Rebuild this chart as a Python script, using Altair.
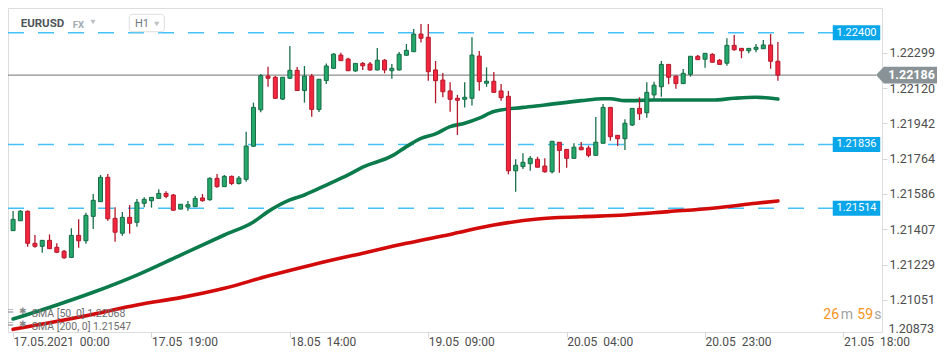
import altair as alt
import pandas as pd

# ---------------- data ----------------
hours = list(range(106))  # hourly candles from 17.05.2021 00:00
opens = [1.21401, 1.21451, 1.21499, 1.21337, 1.21322, 1.21352, 1.21317, 1.21297, 1.21266, 1.21377,
         1.21350, 1.21473, 1.21547, 1.21670, 1.21463, 1.21388, 1.21468, 1.21443, 1.21539, 1.21552,
         1.21564, 1.21589, 1.21581, 1.21510, 1.21520, 1.21522, 1.21566, 1.21557, 1.21665, 1.21623,
         1.21675, 1.21639, 1.21660, 1.21827, 1.22011, 1.22181, 1.22175, 1.22065, 1.22170, 1.22210,
         1.22108, 1.22181, 1.22012, 1.22158, 1.22220, 1.22287, 1.22267, 1.22207, 1.22245, 1.22242,
         1.22212, 1.22261, 1.22208, 1.22212, 1.22286, 1.22304, 1.22393, 1.22377, 1.22212, 1.22161,
         1.22106, 1.22069, 1.22064, 1.22069, 1.22282, 1.22145, 1.22155, 1.22106, 1.22079, 1.21703,
         1.21724, 1.21739, 1.21761, 1.21727, 1.21698, 1.21847, 1.21811, 1.21766, 1.21822, 1.21818,
         1.21781, 1.21842, 1.22023, 1.21882, 1.21865, 1.21934, 1.22018, 1.21996, 1.22086, 1.22127,
         1.22240, 1.22181, 1.22143, 1.22190, 1.22281, 1.22266, 1.22291, 1.22261, 1.22246, 1.22336,
         1.22321, 1.22309, 1.22316, 1.22319, 1.22338, 1.22256]
highs = [1.21500, 1.21505, 1.21503, 1.21379, 1.21354, 1.21382, 1.21337, 1.21303, 1.21413, 1.21458,
         1.21491, 1.21586, 1.21682, 1.21687, 1.21519, 1.21495, 1.21530, 1.21561, 1.21569, 1.21569,
         1.21610, 1.21600, 1.21586, 1.21535, 1.21551, 1.21576, 1.21586, 1.21670, 1.21687, 1.21682,
         1.21679, 1.21677, 1.21900, 1.22047, 1.22192, 1.22228, 1.22181, 1.22176, 1.22333, 1.22227,
         1.22232, 1.22192, 1.22166, 1.22245, 1.22296, 1.22299, 1.22274, 1.22245, 1.22252, 1.22252,
         1.22323, 1.22267, 1.22242, 1.22303, 1.22343, 1.22419, 1.22444, 1.22444, 1.22257, 1.22197,
         1.22150, 1.22086, 1.22150, 1.22377, 1.22308, 1.22225, 1.22202, 1.22141, 1.22106, 1.21761,
         1.21791, 1.21778, 1.21774, 1.21766, 1.21852, 1.21848, 1.21813, 1.21842, 1.21848, 1.21830,
         1.21975, 1.22040, 1.22025, 1.21883, 1.21963, 1.22018, 1.22074, 1.22150, 1.22153, 1.22257,
         1.22242, 1.22184, 1.22217, 1.22282, 1.22287, 1.22296, 1.22296, 1.22267, 1.22372, 1.22388,
         1.22323, 1.22323, 1.22343, 1.22363, 1.22393, 1.22353]
lows = [1.21399, 1.21450, 1.21320, 1.21315, 1.21290, 1.21308, 1.21288, 1.21259, 1.21263, 1.21315,
        1.21335, 1.21409, 1.21546, 1.21451, 1.21345, 1.21375, 1.21386, 1.21421, 1.21519, 1.21517,
        1.21564, 1.21564, 1.21503, 1.21508, 1.21502, 1.21522, 1.21547, 1.21552, 1.21618, 1.21621,
        1.21631, 1.21634, 1.21648, 1.21823, 1.21998, 1.22127, 1.22065, 1.22060, 1.22166, 1.22106,
        1.22047, 1.21976, 1.22000, 1.22141, 1.22219, 1.22257, 1.22208, 1.22202, 1.22212, 1.22208,
        1.22209, 1.22195, 1.22168, 1.22209, 1.22285, 1.22303, 1.22350, 1.22158, 1.22044, 1.22074,
        1.22001, 1.21884, 1.22023, 1.22032, 1.22107, 1.22127, 1.22099, 1.22057, 1.21685, 1.21597,
        1.21712, 1.21703, 1.21721, 1.21693, 1.21690, 1.21693, 1.21719, 1.21765, 1.21808, 1.21771,
        1.21780, 1.21841, 1.21855, 1.21828, 1.21808, 1.21929, 1.21959, 1.21971, 1.22067, 1.22077,
        1.22140, 1.22117, 1.22141, 1.22178, 1.22263, 1.22223, 1.22250, 1.22239, 1.22233, 1.22309,
        1.22271, 1.22296, 1.22301, 1.22318, 1.22218, 1.22158]
closes = [1.21458, 1.21499, 1.21337, 1.21322, 1.21352, 1.21310, 1.21292, 1.21264, 1.21377, 1.21350,
          1.21478, 1.21554, 1.21670, 1.21461, 1.21393, 1.21468, 1.21438, 1.21544, 1.21559, 1.21569,
          1.21589, 1.21574, 1.21504, 1.21534, 1.21532, 1.21564, 1.21552, 1.21665, 1.21623, 1.21675,
          1.21639, 1.21666, 1.21828, 1.22023, 1.22183, 1.22170, 1.22069, 1.22175, 1.22210, 1.22108,
          1.22181, 1.22013, 1.22165, 1.22232, 1.22292, 1.22259, 1.22208, 1.22245, 1.22233, 1.22212,
          1.22261, 1.22212, 1.22220, 1.22291, 1.22311, 1.22393, 1.22372, 1.22203, 1.22158, 1.22102,
          1.22064, 1.22059, 1.22074, 1.22287, 1.22153, 1.22155, 1.22099, 1.22072, 1.21703, 1.21731,
          1.21746, 1.21766, 1.21721, 1.21698, 1.21852, 1.21806, 1.21766, 1.21822, 1.21809, 1.21781,
          1.21847, 1.22023, 1.21875, 1.21865, 1.21943, 1.22018, 1.21991, 1.22099, 1.22135, 1.22240,
          1.22175, 1.22143, 1.22195, 1.22281, 1.22264, 1.22296, 1.22251, 1.22240, 1.22336, 1.22314,
          1.22309, 1.22321, 1.22326, 1.22338, 1.22256, 1.22186]

sma50_hours = [0, 6, 11, 17, 23, 29, 33, 35, 38, 40, 43, 46, 48, 52, 54, 56, 58, 60, 62, 64,
               66, 70, 73, 78, 81, 82, 84, 88, 91, 96, 99, 102, 105]
sma50_values = [1.20955, 1.21026, 1.21090, 1.21177, 1.21278, 1.21379, 1.21445, 1.21497, 1.21556,
                1.21581, 1.21631, 1.21682, 1.21721, 1.21778, 1.21825, 1.21867, 1.21889, 1.21926,
                1.21943, 1.21969, 1.22002, 1.22023, 1.22035, 1.22057, 1.22067, 1.22067, 1.22057,
                1.22060, 1.22060, 1.22060, 1.22069, 1.22074, 1.22065]
sma200_hours = [0, 11, 17, 23, 29, 35, 41, 48, 54, 60, 66, 72, 78, 84, 90, 96, 102, 105]
sma200_values = [1.20903, 1.20979, 1.21026, 1.21063, 1.21110, 1.21172, 1.21228, 1.21287, 1.21337,
                 1.21382, 1.21429, 1.21460, 1.21471, 1.21480, 1.21497, 1.21514, 1.21539, 1.21551]

level_values = [1.22400, 1.21836, 1.21514]
level_labels = ["1.22400", "1.21836", "1.21514"]
last_price = [1.22186]
last_price_label = ["1.22186"]

y_tick_values = [1.22299, 1.22120, 1.21942, 1.21764, 1.21586, 1.21407, 1.21229, 1.21051, 1.20873]
x_tick_hours = [0, 19, 38, 57, 76, 95, 114]
x_tick_labels = ["17.05.2021  00:00", "17.05  19:00", "18.05  14:00", "19.05  09:00",
                 "20.05  04:00", "20.05  23:00", "21.05  18:00"]

symbol_text = "EURUSD"
market_text = "FX"
interval_text = "H1"
legend_texts = ["SMA [50, 0] 1.22068", "SMA [200, 0] 1.21547"]
countdown_parts = ["26", "m", "59", "s"]

# ---------------- chart ----------------
W, H = 874, 324
Y_LOW, Y_HIGH = 1.208895, 1.225246
xscale = alt.Scale(domain=[-0.0136, 118.607], nice=False, zero=False)
yscale = alt.Scale(domain=[Y_LOW, Y_HIGH], nice=False, zero=False)
FONT = "Roboto"

nb = "\u00a0\u00a0"
x_label_texts = [s.replace("  ", nb) for s in x_tick_labels]
label_expr = ("[" + ",".join("'" + s + "'" for s in x_label_texts) + "][indexof(["
              + ",".join(str(h) for h in x_tick_hours) + "], datum.value)]")

inside_ticks = [v for v in y_tick_values if Y_LOW <= v <= Y_HIGH]
outside_ticks = [v for v in y_tick_values if not (Y_LOW <= v <= Y_HIGH)]

xaxis = alt.Axis(values=x_tick_hours, labelExpr=label_expr, labelAlign="left", labelBaseline="middle",
                 labelPadding=4, tickSize=5, tickColor="#d6d6d6", domain=False, grid=False,
                 title=None, labelColor="#4d4d4d", labelFont=FONT, labelFontSize=12,
                 labelOverlap=False, labelFlush=False, labelBound=False)
yaxis = alt.Axis(orient="right", values=inside_ticks, format=".5f", tickSize=5,
                 tickColor="#d6d6d6", domain=False, grid=False, title=None,
                 labelColor="#4d4d4d", labelFont=FONT, labelFontSize=12.5, labelPadding=2,
                 labelOverlap=False, labelBound=False)

candles = pd.DataFrame({"hour": hours, "open": opens, "high": highs, "low": lows, "close": closes})
candles["dir"] = ["up" if c >= o else "down" for o, c in zip(opens, closes)]
levels = pd.DataFrame({"level": level_values, "label": level_labels})
last = pd.DataFrame({"level": last_price, "label": last_price_label})
sma50 = pd.DataFrame({"hour": sma50_hours, "value": sma50_values})
sma200 = pd.DataFrame({"hour": sma200_hours, "value": sma200_values})

dirs = ["up", "down"]

dashed = alt.Chart(levels).mark_rule(strokeDash=[16, 14], color="#45c1f5", strokeWidth=1.5).encode(
    y=alt.Y("level:Q", scale=yscale, axis=yaxis), x=alt.value(0), x2=alt.value(825))

last_line = alt.Chart(last).mark_rule(color="#8e8e8e", strokeWidth=1.3).encode(
    y=alt.Y("level:Q", scale=yscale, axis=yaxis), x=alt.value(0), x2=alt.value(868))

sma200_line = alt.Chart(sma200).mark_line(color="#d20a0a", strokeWidth=3.6, strokeCap="round",
                                          interpolate="monotone").encode(
    x=alt.X("hour:Q", scale=xscale, axis=xaxis), y=alt.Y("value:Q", scale=yscale, axis=yaxis))
sma50_line = alt.Chart(sma50).mark_line(color="#0b7b4c", strokeWidth=3.6, strokeCap="round",
                                        interpolate="monotone").encode(
    x=alt.X("hour:Q", scale=xscale, axis=xaxis), y=alt.Y("value:Q", scale=yscale, axis=yaxis))

wicks = alt.Chart(candles).mark_rule(strokeWidth=1.3).encode(
    x=alt.X("hour:Q", scale=xscale, axis=xaxis),
    y=alt.Y("low:Q", scale=yscale, axis=yaxis), y2="high:Q",
    color=alt.Color("dir:N", scale=alt.Scale(domain=dirs, range=["#17704a", "#b3192b"]), legend=None))

bodies = alt.Chart(candles).mark_bar(size=4, strokeWidth=1).encode(
    x=alt.X("hour:Q", scale=xscale, axis=xaxis),
    y=alt.Y("open:Q", scale=yscale, axis=yaxis), y2="close:Q",
    fill=alt.Fill("dir:N", scale=alt.Scale(domain=dirs, range=["#25a86b", "#f4263e"]), legend=None),
    stroke=alt.Stroke("dir:N", scale=alt.Scale(domain=dirs, range=["#156b45", "#b3192b"]), legend=None))

box_path = "M-1,-0.316L1,-0.316L1,0.316L-1,0.316Z"
level_boxes = alt.Chart(levels).mark_point(shape=box_path, size=47.5 ** 2, filled=True, opacity=1,
                                           color="#0aa6ea", strokeWidth=0).encode(
    x=alt.value(848.5), y=alt.Y("level:Q", scale=yscale, axis=yaxis))
level_text = alt.Chart(levels).mark_text(color="white", font=FONT, fontSize=11).encode(
    x=alt.value(848.5), y=alt.Y("level:Q", scale=yscale, axis=yaxis), text="label:N")

arrow_path = "M-1,0L-0.74,-0.272L1,-0.272L1,0.272L-0.74,0.272Z"
last_box = alt.Chart(last).mark_point(shape=arrow_path, size=61 ** 2, filled=True, opacity=1,
                                      color="#899296", strokeWidth=0).encode(
    x=alt.value(898.5), y=alt.Y("level:Q", scale=yscale, axis=yaxis))
last_text = alt.Chart(last).mark_text(color="white", font=FONT, fontSize=12.5, fontWeight="bold").encode(
    x=alt.value(903.5), y=alt.Y("level:Q", scale=yscale, axis=yaxis), text="label:N")


def text_layer(text, x, y, **kw):
    return alt.Chart(pd.DataFrame({"t": [text]})).mark_text(font=FONT, baseline="middle", **kw).encode(
        x=alt.value(x), y=alt.value(y), text="t:N")


def marker(x, y, **kw):
    return alt.Chart(pd.DataFrame({"t": [0]})).mark_point(**kw).encode(x=alt.value(x), y=alt.value(y))


# tick label below the visible price range, pinned to the bottom edge like the reference
bottom_label = [text_layer(f"{v:.5f}", 880.5, 321, align="left", fontSize=12.5, color="#4d4d4d")
                for v in outside_ticks]

h1_box = alt.Chart(pd.DataFrame({"t": [0]})).mark_rect(
    cornerRadius=3, fill="white", stroke="#dedede", strokeWidth=1).encode(
    x=alt.value(121.3), x2=alt.value(156.3), y=alt.value(6.3), y2=alt.value(23.7))

header = [
    text_layer(symbol_text, 12.7, 15.7, align="left", fontSize=11.5, fontWeight="bold", color="#4d555a"),
    text_layer(market_text, 64.7, 16.5, align="left", fontSize=9.5, fontWeight="bold", color="#a3acb1"),
    marker(85, 14, shape="triangle-down", size=28, filled=True, opacity=1, color="#bcc1c4"),
    h1_box,
    text_layer(interval_text, 127, 15.5, align="left", fontSize=11, color="#6f777b"),
    marker(148.7, 16, shape="triangle-down", size=28, filled=True, opacity=1, color="#bcc1c4"),
]

legend = [
    text_layer("\u2261", 2.3, 302.5, align="center", fontSize=12, color="#8a8a8a"),
    text_layer("\u2731", 15, 302.5, align="center", fontSize=9, color="#8a8a8a"),
    text_layer(legend_texts[0], 23.7, 305.7, align="left", fontSize=10.5, color="#6e6e6e"),
    text_layer("\u2261", 2.3, 316, align="center", fontSize=12, color="#8a8a8a"),
    text_layer("\u2731", 15, 316, align="center", fontSize=9, color="#8a8a8a"),
    text_layer(legend_texts[1], 23.7, 319, align="left", fontSize=10.5, color="#6e6e6e"),
]

countdown = [
    text_layer(countdown_parts[0], 815.3, 307, align="left", fontSize=14, color="#f7941d"),
    text_layer(countdown_parts[1], 832.7, 307, align="left", fontSize=14, color="#a3a3a3"),
    text_layer(countdown_parts[2], 849.3, 307, align="left", fontSize=14, color="#f7941d"),
    text_layer(countdown_parts[3], 866.3, 307, align="left", fontSize=14, color="#a3a3a3"),
]

chart = alt.layer(
    dashed, last_line, sma200_line, sma50_line, wicks, bodies,
    level_boxes, level_text, last_box, last_text, *bottom_label, *header, *legend, *countdown
).properties(
    width=W, height=H,
    autosize=alt.AutoSizeParams(type="none"),
    padding={"left": 0, "top": 0, "right": 60, "bottom": 16},
).configure_view(strokeWidth=0).configure(background="white")

chart.save("out.html", embed_options={"renderer": "svg", "actions": False})
